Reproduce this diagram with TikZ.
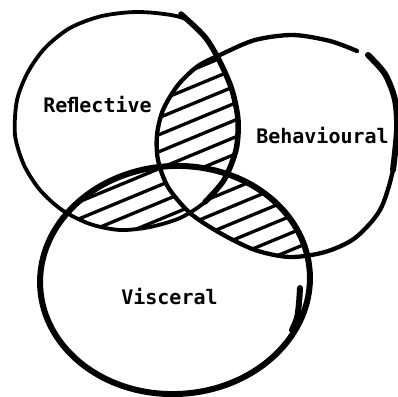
\documentclass[tikz,border=0pt]{standalone}
\usepackage{fontspec}
\setmonofont{DejaVu Sans Mono}
\tikzset{
  rim/.style={line width=#1,line cap=round,line join=round},
  rim/.default=4.3pt,
  hatch/.style={line width=3.3pt,line cap=round},
  lbl/.style={font=\ttfamily\bfseries\fontsize{20}{24}\selectfont,inner sep=0pt,anchor=base}
}
% outlines, in picture pixels (y downwards)
\newcommand{\reflpath}{plot[smooth cycle] coordinates {(140,12) (183,18) (205,38) (220,62) (232,90) (238,120) (236,150) (224,180) (205,202) (180,218) (150,227) (120,230) (90,224) (62,210) (40,190) (24,165) (15,135) (17,100) (28,72) (45,48) (70,28) (102,16)}}
\newcommand{\behapath}{plot[smooth cycle] coordinates {(293,35) (333,42) (360,52) (383,72) (395,100) (397,130) (393,170) (380,210) (355,238) (325,252) (290,257) (255,250) (220,233) (190,213) (168,187) (158,160) (157,135) (163,110) (178,85) (198,66) (222,54) (255,40)}}
\newcommand{\viscpath}{(175,280) ellipse [x radius=135, y radius=114, rotate=3]}
\newcommand{\hatchlines}{\foreach \k in {0,...,28} \draw[hatch] (-10,\k*17+0.7) -- ++(420,-174);}

\begin{document}
\begin{tikzpicture}[x=1pt,y=-1pt]
  \useasboundingbox (0,0) rectangle (398,396);
  % hatched lenses
  \begin{scope}[even odd rule]
    \clip \reflpath; \clip \behapath;
    \clip (-10,-10) rectangle (410,410) \viscpath;
    \hatchlines
  \end{scope}
  \begin{scope}[even odd rule]
    \clip \reflpath; \clip \viscpath;
    \clip (-10,-10) rectangle (410,410) \behapath;
    \hatchlines
  \end{scope}
  \begin{scope}[even odd rule]
    \clip \behapath; \clip \viscpath;
    \clip (-10,-10) rectangle (410,410) \reflpath;
    \hatchlines
  \end{scope}
  % reflective
  \draw[rim=3.8pt] \reflpath;
  \draw[rim=5.5pt] plot[smooth] coordinates {(181,14) (205,37) (220,62) (232,90) (238,120) (236,150) (224,180) (205,202)};
  % behavioural, open at the top right
  \draw[rim=6pt] plot[smooth] coordinates {(368,55) (385,74) (395,100) (397,130) (393,170)};
  \draw[rim] plot[smooth] coordinates {(397,130) (393,170) (380,210) (355,238) (325,252) (290,257) (255,250) (220,233) (190,213) (168,187) (158,160) (157,135) (163,110) (178,85) (198,66) (222,54) (255,40) (293,35) (330,41) (357,51)};
  % visceral
  \draw[rim=6pt] \viscpath;
  \draw[rim=6pt] plot[smooth] coordinates {(300,288) (299,303) (297,318) (292,330)};
  % labels
  \node[lbl] (refl) at (97.5,112) {Reﬂective};
  \node[lbl] (beha) at (322.5,143) {Behavioural};
  \node[lbl] (visc) at (169.5,304) {Visceral};
\end{tikzpicture}
\end{document}
